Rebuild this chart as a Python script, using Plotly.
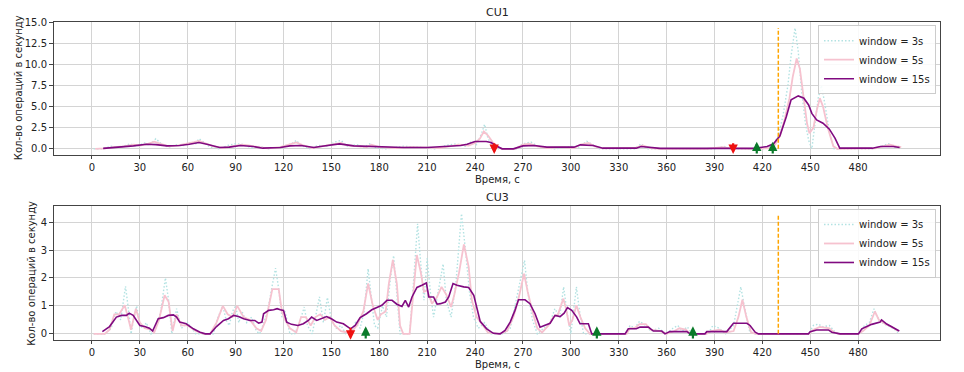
import plotly.graph_objects as go

# ---------------- DATA ----------------
x_ticks = [0, 30, 60, 90, 120, 150, 180, 210, 240, 270, 300, 330, 360, 390, 420, 450, 480]
top_y_ticks = [0.0, 2.5, 5.0, 7.5, 10.0, 12.5, 15.0]
bot_y_ticks = [0, 1, 2, 3, 4]
series_names = ["window = 3s", "window = 5s", "window = 15s"]
event_time = 430

# CU1 (top)
cu1_w3_t = [1, 6, 12, 18, 24, 28, 33, 36, 40, 44, 48, 53, 58, 62, 65, 67, 70, 74, 80, 85, 90, 95, 100, 105, 110,
            115, 120, 125, 128, 131, 136, 142, 148, 152, 156, 160, 166, 170, 174, 178, 185, 195, 205, 215, 222, 228,
            234, 238, 241, 244, 246, 248, 250, 253, 256, 266, 270, 275, 280, 290, 300, 305, 310, 314, 318, 340, 344,
            348, 352, 390, 396, 400, 420, 426, 430, 433, 436, 438, 440.5, 442.5, 444.5, 447, 449, 451, 453, 455, 457,
            459, 462, 465, 490, 495, 499, 503, 507]
cu1_w3_v = [0, 0, 0.3, 0.2, 0.6, 0.3, 0.7, 0.4, 1.2, 0.5, 0.2, 0.5, 0.4, 0.8, 0.6, 1.2, 0.8, 0.2, 0, 0.4, 0.6, 0.5,
            0.1, 0.3, 0, 0.1, 0.3, 0.6, 1.0, 0.4, 0, 0.4, 0.3, 0.8, 1.0, 0.3, 0.5, 0.1, 0.6, 0.1, 0, 0.3, 0.2, 0,
            0.4, 0.6, 0.3, 0.9, 0.5, 1.8, 2.9, 1.3, 0.6, 0, 0, 0, 0.6, 0.8, 0.2, 0, 0.3, 0.2, 0.9, 0.4, 0, 0, 0.6,
            0, 0, 0, 0.3, 0, 0, 0.3, 1.5, 4.0, 7.5, 11.0, 14.3, 11.5, 7.0, 3.0, 1.0, 0.0, 3.0, 6.0, 7.5, 5.5, 2.0,
            0.0, 0.0, 0.3, 0.6, 0.2, 0.3]

cu1_w5_t = [2, 8, 14, 20, 26, 30, 35, 39, 43, 48, 54, 60, 64, 67, 71, 76, 82, 88, 94, 98, 104, 110, 118, 124, 128,
            132, 138, 144, 150, 156, 160, 166, 172, 175, 180, 190, 200, 210, 218, 224, 230, 236, 240, 243, 245.5,
            248, 251, 254, 257, 265, 270, 274, 279, 285, 295, 302, 306, 311, 315, 320, 340, 345, 350, 356, 385, 395,
            400, 415, 425, 428, 431, 434, 437, 439, 441.5, 443.5, 446, 448, 449.5, 452, 454, 456, 458, 461, 464.5,
            467, 490, 495, 500, 504, 507]
cu1_w5_v = [0, 0.05, 0.2, 0.3, 0.5, 0.4, 0.6, 0.85, 0.6, 0.3, 0.4, 0.6, 0.8, 0.95, 0.7, 0.3, 0.1, 0.3, 0.5, 0.4,
            0.2, 0.05, 0.2, 0.5, 0.75, 0.45, 0.1, 0.3, 0.5, 0.7, 0.4, 0.3, 0.2, 0.5, 0.2, 0.1, 0.2, 0.15, 0.1, 0.3,
            0.5, 0.4, 0.7, 1.2, 2.05, 1.6, 0.8, 0.2, 0.0, 0.0, 0.5, 0.6, 0.3, 0.1, 0.2, 0.1, 0.5, 0.7, 0.3, 0.05,
            0.1, 0.4, 0.1, 0.0, 0.0, 0.2, 0.05, 0.0, 0.1, 0.5, 1.5, 3.5, 6.0, 8.5, 10.7, 9.5, 6.0, 3.0, 1.85, 2.5,
            4.5, 6.0, 5.0, 2.5, 0.3, 0.0, 0.05, 0.3, 0.5, 0.3, 0.2]

cu1_w15_t = [7, 15, 26, 34, 40, 47, 55, 61, 67, 72, 80, 86, 93, 101, 107, 118, 124, 131, 139, 143, 149, 155, 164,
             172, 181, 195, 210, 222, 231, 235, 240, 247, 250, 254, 257, 264, 270, 277, 285, 302, 306, 314, 320,
             341, 344, 356, 385, 400, 415, 423, 427, 431, 435, 438, 442.5, 446, 449, 451, 454, 458, 462, 465.5,
             468.5, 489, 494, 502, 506]
cu1_w15_v = [0.05, 0.15, 0.35, 0.55, 0.5, 0.35, 0.4, 0.55, 0.75, 0.55, 0.16, 0.2, 0.4, 0.28, 0.08, 0.16, 0.35, 0.4,
             0.16, 0.28, 0.45, 0.59, 0.35, 0.28, 0.2, 0.16, 0.16, 0.28, 0.4, 0.55, 0.87, 0.87, 0.75, 0.28, 0.0,
             0.0, 0.35, 0.4, 0.2, 0.2, 0.47, 0.4, 0.08, 0.08, 0.28, 0.06, 0.06, 0.06, 0.06, 0.28, 0.6, 1.54, 3.8,
             5.8, 6.27, 6.0, 5.2, 4.2, 3.43, 3.04, 2.33, 1.26, 0.08, 0.08, 0.28, 0.28, 0.16]

cu1_down_arrows = [252, 401.7]
cu1_up_arrows = [416.5, 426.5]

# CU3 (bottom)
cu3_w3_t = [1, 8, 12, 15, 18, 21, 23, 24.5, 26, 28, 30, 32, 34, 37, 40, 43, 46, 48, 50, 51.5, 53, 56, 60, 65, 70,
            76, 79, 82, 84, 86, 88, 90, 92, 94, 97, 100, 103, 105, 107, 110, 112.5, 115, 117, 119, 121, 124, 127,
            130, 133, 135, 138, 141, 142.5, 145, 147.5, 150, 153, 156, 159, 162, 165, 168, 170.5, 173, 175, 177,
            179, 182, 184.5, 187, 189, 191, 193, 195, 199, 201, 204, 206, 208, 210, 212, 214, 217, 220, 222, 225,
            228, 231.5, 234, 236.5, 239, 242, 246, 250, 258, 262, 265, 268, 271, 273, 276, 279, 283, 287, 290, 293,
            295.5, 297.5, 300, 303.5, 305.5, 308, 312, 335, 337, 340, 343, 347, 350, 355, 360, 364, 367, 370, 373,
            376, 386, 389, 393, 397, 402, 404, 406.5, 409, 412, 415, 449, 452, 455, 458, 462, 465, 468, 481, 484,
            487, 490, 492, 495, 498, 502, 505]
cu3_w3_v = [0, 0, 0.2, 0.8, 0.5, 1.7, 0.8, 0, 0.5, 1.0, 0.3, 0.2, 0.4, 0, 0.2, 0.8, 2.0, 1.2, 0, 0.4, 0.9, 0.2, 0.4,
            0, 0, 0, 0.6, 1.0, 0.5, 0.3, 0.8, 1.0, 0.4, 0.8, 0.4, 0.6, 0.1, 0, 0.3, 0.8, 1.6, 2.35, 1.6, 0.6, 0.8, 0,
            0, 0.4, 0.96, 0.3, 0, 0.9, 1.32, 0.4, 1.3, 0.5, 0.2, 0.3, 0, 0, 0.4, 0.2, 0.8, 2.33, 1.2, 0.3, 0.2, 1.0,
            0.6, 2.0, 2.8, 1.5, 0, 0, 0, 1.5, 3.94, 2.5, 1.2, 2.7, 1.5, 0.6, 1.5, 2.5, 1.2, 0.6, 1.8, 4.3, 3.0, 1.5,
            0.6, 0.2, 0.4, 0, 0, 0.2, 1.0, 1.8, 2.63, 1.5, 0.5, 0, 0.2, 0.4, 0.9, 0.6, 1.68, 0.8, 0, 1.68, 0.8, 0,
            0, 0, 0.3, 0.2, 0.45, 0.3, 0.1, 0.2, 0, 0.2, 0.3, 0.1, 0.25, 0, 0, 0.3, 0.2, 0, 0.3, 0.9, 1.68, 0.9,
            0.1, 0, 0, 0.3, 0.35, 0.25, 0.3, 0.1, 0, 0, 0.3, 0.4, 0.9, 0.6, 0.4, 0.3, 0.2, 0.05]

cu3_w5_t = [1, 8, 11, 14, 17, 20.5, 22.5, 24.5, 27.5, 30, 33, 37, 39, 42, 45.5, 48, 50.5, 53, 56, 60, 65, 70, 74,
            78, 82, 85, 88, 91, 95, 99, 103, 106, 109, 113, 117, 119, 121, 124, 128, 131, 134, 137, 140, 143, 146,
            149, 152, 156, 160, 163, 166, 170, 173, 176, 179, 181, 184, 186, 188.5, 191, 193, 195, 199, 201, 203.5,
            206, 208, 210, 213, 216, 219, 222, 225, 227, 230, 233, 236, 238, 241, 245, 248, 255, 260, 264, 267,
            270.7, 273, 276, 279, 282, 286, 289, 292, 295.3, 297, 299, 301, 303.5, 306, 309, 312, 335, 337, 340,
            343, 347, 350, 356, 360, 365, 368, 372, 375, 385, 388, 393, 397, 402, 405, 407.5, 410, 413, 416, 449,
            452, 456, 462, 465, 468, 480, 483, 487, 490.5, 493, 497, 501, 505]
cu3_w5_v = [0, 0, 0.15, 0.7, 0.7, 1.02, 0.6, 0.15, 0.9, 0.4, 0.2, 0.15, 0.05, 0.5, 1.38, 1.15, 0.1, 0.7, 0.3, 0.3,
            0.1, 0, 0, 0.4, 1.0, 0.7, 0.6, 1.0, 0.6, 0.5, 0.2, 0.1, 0.5, 1.6, 1.6, 0.8, 0.5, 0.2, 0.05, 0.6, 0.6,
            0.3, 0.6, 0.7, 0.5, 0.6, 0.3, 0.1, 0.05, 0.1, 0.3, 0.8, 1.8, 1.0, 0.5, 0.7, 0.8, 1.8, 2.65, 1.8, 0.3, 0,
            0, 1.2, 2.82, 2.2, 1.5, 1.56, 1.08, 1.3, 1.68, 1.4, 0.96, 1.4, 2.2, 3.2, 2.4, 1.2, 0.6, 0.3, 0.05, 0,
            0.1, 0.6, 1.2, 2.15, 1.5, 0.8, 0.2, 0.05, 0.3, 0.6, 0.7, 1.26, 0.9, 0.3, 0.5, 1.02, 0.6, 0.2, 0, 0, 0.2,
            0.2, 0.35, 0.35, 0.15, 0.1, 0, 0.1, 0.2, 0.15, 0, 0, 0.1, 0.15, 0.05, 0.1, 0.6, 1.22, 0.6, 0.05, 0, 0,
            0.15, 0.25, 0.2, 0.05, 0, 0, 0.1, 0.3, 0.8, 0.5, 0.35, 0.25, 0.1]

cu3_w15_t = [6.5, 11, 15.3, 18.4, 21.6, 23.3, 25.8, 27.9, 30, 33, 36, 38, 39.4, 41.5, 44.7, 47.8, 51, 53, 55, 59,
             63.5, 67.7, 71, 74, 78, 82.4, 85.5, 88.7, 91.8, 95, 99, 102, 104.4, 106.5, 107.5, 110.7, 113.8, 116,
             118, 120, 122, 125, 129, 132.4, 135.6, 137.6, 140.8, 144, 147, 150, 153.3, 157.5, 160.6, 162, 164.9,
             168, 172, 175.3, 178.5, 181.6, 184.8, 188, 191, 194.2, 196.3, 198.4, 200.5, 203.6, 206.7, 209.5, 211,
             214, 216.2, 218.3, 221.4, 223.5, 226.2, 228.7, 232.9, 236, 239.2, 243.2, 247.3, 251.5, 255.7, 258.8,
             262, 265, 267.2, 271.3, 274.4, 277.6, 280.7, 283.9, 287, 290.1, 293.3, 295.8, 297.9, 300.6, 303.7,
             305.8, 311, 313.1, 334, 336, 341, 343.4, 348.6, 351.7, 357, 359, 362, 372.7, 374.8, 384, 385.2, 397.7,
             399.8, 401.9, 410.3, 412.3, 415.5, 417.6, 448.9, 450, 454, 461.4, 463.5, 468.7, 480.2, 482.3, 485.4,
             488.5, 493.8, 494.7, 497.9, 502, 505.8]
cu3_w15_v = [0.08, 0.26, 0.6, 0.66, 0.66, 0.74, 0.66, 0.48, 0.3, 0.26, 0.2, 0.1, 0.3, 0.54, 0.58, 0.66, 0.68, 0.6,
             0.42, 0.36, 0.18, 0.06, 0, 0, 0.26, 0.48, 0.54, 0.66, 0.62, 0.54, 0.48, 0.48, 0.38, 0.42, 0.72, 0.84,
             0.86, 0.9, 0.86, 0.84, 0.42, 0.34, 0.3, 0.36, 0.48, 0.6, 0.48, 0.54, 0.62, 0.54, 0.42, 0.36, 0.22,
             0.18, 0.3, 0.58, 0.72, 0.86, 0.94, 1.02, 1.2, 1.2, 1.06, 0.98, 1.2, 0.96, 1.32, 1.66, 1.74, 1.82,
             1.32, 1.32, 1.06, 1.08, 1.14, 1.32, 1.8, 1.74, 1.68, 1.66, 1.38, 0.45, 0.18, 0.02, 0, 0.12, 0.42,
             0.84, 1.22, 1.22, 1.08, 0.72, 0.24, 0.3, 0.38, 0.66, 0.62, 0.74, 0.94, 0.84, 0.6, 0.36, 0.36, 0, 0,
             0.18, 0.18, 0.24, 0.24, 0.1, 0.1, 0, 0.08, 0.08, 0, 0, 0.08, 0.08, 0.24, 0.38, 0.38, 0.3, 0.06, 0, 0,
             0.08, 0.14, 0.14, 0.06, 0, 0, 0.18, 0.26, 0.34, 0.42, 0.5, 0.35, 0.23, 0.1]

cu3_down_arrows = [162]
cu3_up_arrows = [171.5, 316.3, 376.5]

# ---------------- STYLE ----------------
FONT = "DejaVu Sans"
C3, C5, C15 = "#b2e2e2", "#f6c2cf", "#800a80"
GRID = "#d4d4d4"
FRAME = "#444444"

fig = go.Figure()

panels = [
    ("x", "y", "legend", (cu1_w3_t, cu1_w3_v), (cu1_w5_t, cu1_w5_v), (cu1_w15_t, cu1_w15_v)),
    ("x2", "y2", "legend2", (cu3_w3_t, cu3_w3_v), (cu3_w5_t, cu3_w5_v), (cu3_w15_t, cu3_w15_v)),
]
for xa, ya, lg, s3, s5, s15 in panels:
    fig.add_trace(go.Scatter(x=s3[0], y=s3[1], mode="lines", name=series_names[0], xaxis=xa, yaxis=ya, legend=lg,
                             line=dict(color=C3, width=1.4, dash="1.5px,2px")))
    fig.add_trace(go.Scatter(x=s5[0], y=s5[1], mode="lines", name=series_names[1], xaxis=xa, yaxis=ya, legend=lg,
                             line=dict(color=C5, width=1.8)))
    fig.add_trace(go.Scatter(x=s15[0], y=s15[1], mode="lines", name=series_names[2], xaxis=xa, yaxis=ya, legend=lg,
                             line=dict(color=C15, width=1.6)))
    fig.add_trace(go.Scatter(x=[event_time, event_time], y=[0, max(s3[1])], mode="lines", xaxis=xa, yaxis=ya,
                             showlegend=False, hoverinfo="skip",
                             line=dict(color="#ffa500", width=1.5, dash="4px,2px")))

annotations = []


def add_arrows(times, xref, yref, tail, head, color):
    for t in times:
        annotations.append(dict(x=t, y=head, ax=t, ay=tail, xref=xref, yref=yref, axref=xref, ayref=yref,
                                text="", showarrow=True, arrowhead=2, arrowsize=0.85, arrowwidth=2.2,
                                arrowcolor=color, standoff=0))


add_arrows(cu1_down_arrows, "x", "y", 0.85, -0.6, "#ee1111")
add_arrows(cu1_up_arrows, "x", "y", -0.72, 0.85, "#0a7a2a")
add_arrows(cu3_down_arrows, "x2", "y2", 0.27, -0.21, "#ee1111")
add_arrows(cu3_up_arrows, "x2", "y2", -0.22, 0.27, "#0a7a2a")

# titles and axis labels as text
txt = dict(font=dict(family=FONT, size=10, color="#222"), showarrow=False, xref="paper", yref="paper")
ttl = dict(font=dict(family=FONT, size=11, color="#222"), showarrow=False, xref="paper", yref="paper")
annotations += [
    dict(text="CU1", x=0.5, y=1.031, xanchor="center", yanchor="middle", **ttl),
    dict(text="CU3", x=0.5, y=0.449, xanchor="center", yanchor="middle", **ttl),
    dict(text="Время, с", x=0.5, y=0.506, xanchor="center", yanchor="middle", **txt),
    dict(text="Время, с", x=0.5, y=-0.078, xanchor="center", yanchor="middle", **txt),
    dict(text="Кол-во операций в секунду", x=-0.0406, y=0.792, textangle=-90, xanchor="center", yanchor="middle", **txt),
    dict(text="Кол-во операций в секунду", x=-0.0250, y=0.211, textangle=-90, xanchor="center", yanchor="middle", **txt),
]

xaxis_common = dict(range=[-23.8, 531.3], tickvals=x_ticks, showgrid=True, gridcolor=GRID, gridwidth=1,
                    showline=True, linecolor=FRAME, linewidth=1, mirror=True, ticks="outside", ticklen=3,
                    tickcolor=FRAME, zeroline=False, automargin=False,
                    tickfont=dict(family=FONT, size=10, color="#222"))
yaxis_common = dict(showgrid=True, gridcolor=GRID, gridwidth=1, showline=True, linecolor=FRAME, linewidth=1,
                    mirror=True, ticks="outside", ticklen=4, tickcolor=FRAME, zeroline=False, automargin=False,
                    tickfont=dict(family=FONT, size=10, color="#222"))

legend_common = dict(font=dict(family=FONT, size=10, color="#222"), bgcolor="rgba(255,255,255,0.85)",
                     bordercolor="#cccccc", borderwidth=1, xanchor="right", yanchor="top", itemwidth=30,
                     tracegroupgap=0)

fig.update_layout(
    width=964, height=372,
    margin=dict(l=54, r=24, t=22, b=32),
    paper_bgcolor="white", plot_bgcolor="white",
    font=dict(family=FONT, size=10, color="#222"),
    xaxis=dict(domain=[0, 1], anchor="y", **xaxis_common),
    yaxis=dict(domain=[0.582, 1], anchor="x", range=[-0.72, 15.02], tickvals=top_y_ticks,
               ticktext=[f"{v:.1f}" for v in top_y_ticks], **yaxis_common),
    xaxis2=dict(domain=[0, 1], anchor="y2", **xaxis_common),
    yaxis2=dict(domain=[0, 0.421], anchor="x2", range=[-0.22, 4.57], tickvals=bot_y_ticks, **yaxis_common),
    legend=dict(x=0.9955, y=0.99, **legend_common),
    legend2=dict(x=0.9955, y=0.412, **legend_common),
    annotations=annotations,
    showlegend=True,
)

fig.write_html("out.html", config={"displayModeBar": False},
               post_script="document.body.style.margin='0px';")
